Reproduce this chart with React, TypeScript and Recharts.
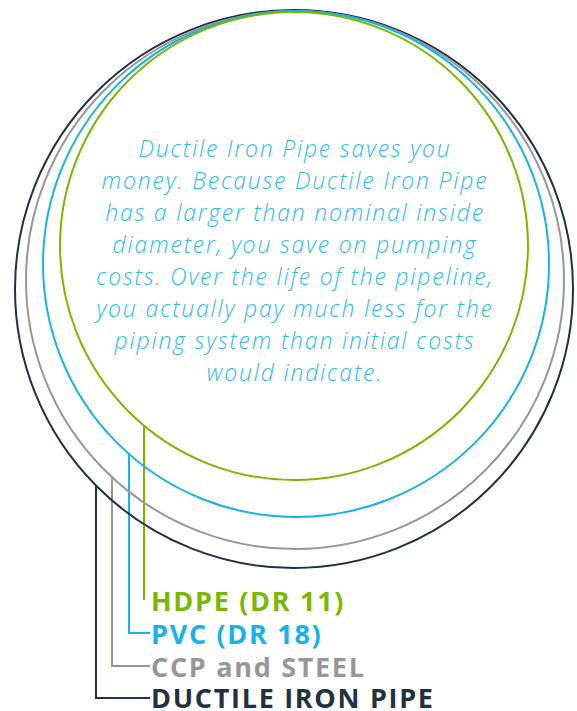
import React from 'react';
import { ScatterChart, Scatter, XAxis, YAxis } from 'recharts';

// Pipe rings, outermost first (chart units = pixels, y grows downward)
const pipeNames = ['DUCTILE IRON PIPE', 'CCP and STEEL', 'PVC (DR 18)', 'HDPE (DR 11)'];
const pipeColors = ['#22313f', '#96979a', '#17b3e6', '#7ab800'];
const ringCenterX = [294, 295, 296, 294];
const ringCenterY = [289, 280, 264, 246];
const ringRadius = [279, 269, 253, 234];

// Leader lines from each ring to its label
const leaderX = [96, 112, 129, 144];
const leaderEndY = [698, 666, 633, 600];
const labelX = 151;
const labelBaseline = [708, 677, 644, 611];

const paragraphLines = [
  'Ductile Iron Pipe saves you',
  'money. Because Ductile Iron Pipe',
  'has a larger than nominal inside',
  'diameter, you save on pumping',
  'costs. Over the life of the pipeline,',
  'you actually pay much less for the',
  'piping system than initial costs',
  'would indicate.',
];
const paragraphX = 295;
const paragraphBaseline = [157, 189, 221, 253, 285, 317, 349, 381];

const W = 577;
const H = 711;
const PX = 1; // pixels per chart unit

const ringData = pipeNames.map((name, i) => ({
  name,
  x: ringCenterX[i],
  y: ringCenterY[i],
  r: ringRadius[i],
  color: pipeColors[i],
}));

const leaderData = pipeNames.map((name, i) => {
  const dx = leaderX[i] - ringCenterX[i];
  const startY = ringCenterY[i] + Math.sqrt(ringRadius[i] ** 2 - dx ** 2);
  const pts = [
    { x: leaderX[i], y: startY },
    { x: leaderX[i], y: leaderEndY[i] },
  ];
  if (i < 3) pts.push({ x: labelX - 1, y: leaderEndY[i] });
  return pts;
});

const labelData = pipeNames.map((name, i) => ({
  name,
  x: labelX,
  y: labelBaseline[i],
  color: pipeColors[i],
}));

const paragraphData = paragraphLines.map((text, i) => ({
  text,
  x: paragraphX,
  y: paragraphBaseline[i],
}));

const Empty = () => <g />;

const RingShape = (props: any) => {
  const { cx, cy, payload } = props;
  return (
    <circle cx={cx} cy={cy} r={payload.r * PX} fill="none" stroke={payload.color} strokeWidth={2} />
  );
};

const LabelShape = (props: any) => {
  const { cx, cy, payload } = props;
  return (
    <text
      x={cx}
      y={cy}
      fill={payload.color}
      fontFamily="'Open Sans', sans-serif"
      fontWeight={700}
      fontSize={27}
      letterSpacing={1.7}
    >
      {payload.name}
    </text>
  );
};

const ParagraphShape = (props: any) => {
  const { cx, cy, payload } = props;
  return (
    <text
      x={cx}
      y={cy}
      fill="#2dbcec"
      textAnchor="middle"
      fontFamily="'Open Sans', sans-serif"
      fontStyle="italic"
      fontWeight={300}
      fontSize={23}
      letterSpacing={1.8}
    >
      {payload.text}
    </text>
  );
};

export default function App() {
  return (
    <div style={{ position: 'absolute', left: 0, top: 0, width: W, height: H, background: '#fff' }}>
      <ScatterChart width={W} height={H} margin={{ top: 0, right: 0, bottom: 0, left: 0 }}>
        <XAxis type="number" dataKey="x" domain={[0, W]} hide />
        <YAxis type="number" dataKey="y" domain={[0, H]} reversed hide />
        {leaderData.map((pts, i) => (
          <Scatter
            key={'leader' + i}
            data={pts}
            line={{ stroke: pipeColors[i], strokeWidth: 2 }}
            lineType="joint"
            shape={<Empty />}
            isAnimationActive={false}
          />
        ))}
        <Scatter data={ringData} shape={<RingShape />} isAnimationActive={false} />
        <Scatter data={labelData} shape={<LabelShape />} isAnimationActive={false} />
        <Scatter data={paragraphData} shape={<ParagraphShape />} isAnimationActive={false} />
      </ScatterChart>
    </div>
  );
}
